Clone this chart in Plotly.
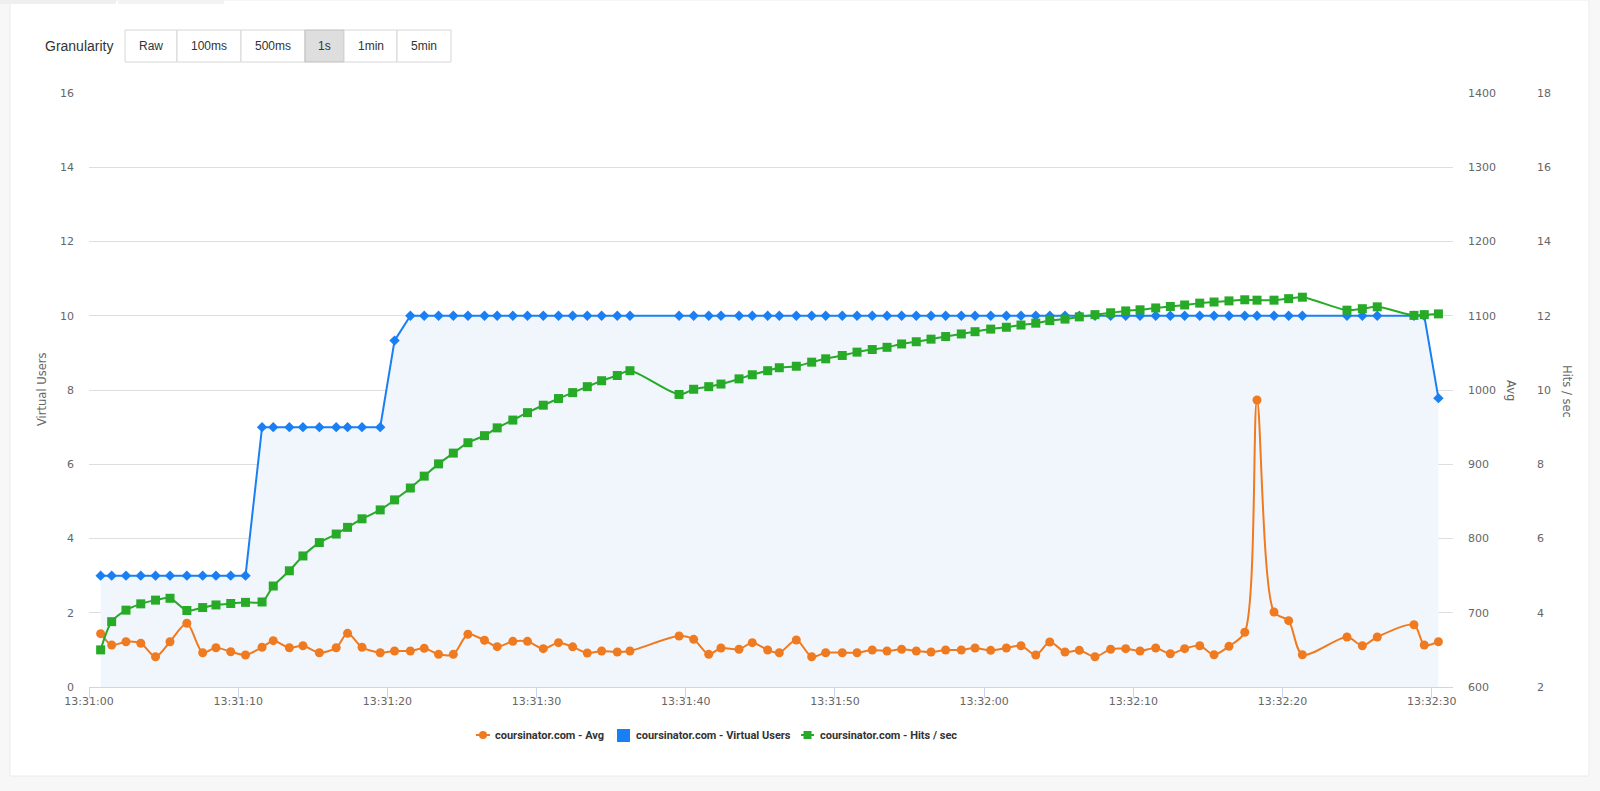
import pandas as pd
import plotly.graph_objects as go

# ---------------- data ----------------
base_time = "2024-01-01 13:31:00"
t_sec = [0.78, 1.52, 2.48, 3.47, 4.46, 5.43, 6.56, 7.62, 8.51, 9.50,
         10.49, 11.60, 12.35, 13.43, 14.34, 15.44, 16.57, 17.33, 18.30, 19.52,
         20.48, 21.54, 22.47, 23.43, 24.42, 25.40, 26.51, 27.36, 28.41, 29.39,
         30.45, 31.47, 32.42, 33.40, 34.36, 35.41, 36.26, 39.55, 40.53, 41.54,
         42.36, 43.57, 44.46, 45.49, 46.27, 47.41, 48.44, 49.38, 50.49, 51.48,
         52.50, 53.49, 54.47, 55.45, 56.44, 57.42, 58.47, 59.39, 60.44, 61.49,
         62.47, 63.46, 64.40, 65.42, 66.38, 67.43, 68.48, 69.49, 70.45, 71.50,
         72.48, 73.44, 74.45, 75.41, 76.41, 77.47, 78.29, 79.43, 80.41, 81.33,
         84.32, 85.35, 86.35, 88.81, 89.50, 90.45]

virtual_users = [3, 3, 3, 3, 3, 3, 3, 3, 3, 3,
                 3, 7, 7, 7, 7, 7, 7, 7, 7, 7,
                 9.33, 10, 10, 10, 10, 10, 10, 10, 10, 10,
                 10, 10, 10, 10, 10, 10, 10, 10, 10, 10,
                 10, 10, 10, 10, 10, 10, 10, 10, 10, 10,
                 10, 10, 10, 10, 10, 10, 10, 10, 10, 10,
                 10, 10, 10, 10, 10, 10, 10, 10, 10, 10,
                 10, 10, 10, 10, 10, 10, 10, 10, 10, 10,
                 10, 10, 10, 10, 10, 7.78]

hits_per_sec = [3.00, 3.76, 4.07, 4.24, 4.34, 4.39, 4.06, 4.14, 4.21, 4.25,
                4.28, 4.29, 4.72, 5.13, 5.53, 5.89, 6.12, 6.30, 6.53, 6.77,
                7.04, 7.36, 7.68, 8.01, 8.30, 8.58, 8.77, 8.98, 9.19, 9.39,
                9.59, 9.77, 9.93, 10.09, 10.25, 10.39, 10.52, 9.88, 10.02, 10.09,
                10.16, 10.30, 10.41, 10.52, 10.60, 10.64, 10.75, 10.84, 10.93, 11.02,
                11.09, 11.15, 11.24, 11.30, 11.37, 11.44, 11.51, 11.57, 11.64, 11.69,
                11.75, 11.80, 11.87, 11.91, 11.97, 12.03, 12.08, 12.13, 12.16, 12.21,
                12.25, 12.29, 12.34, 12.37, 12.40, 12.43, 12.42, 12.42, 12.46, 12.50,
                12.15, 12.19, 12.24, 12.01, 12.03, 12.05]

avg_ms = [671.8, 656.6, 661.0, 658.9, 640.8, 661.0, 685.8, 646.2, 652.9, 647.5,
          643.1, 653.5, 662.4, 652.9, 655.6, 646.2, 652.9, 672.3, 653.5, 646.2,
          648.5, 648.5, 652.1, 644.0, 644.0, 671.0, 662.9, 654.3, 661.5, 661.5,
          651.6, 659.7, 654.1, 645.8, 648.5, 647.1, 648.5, 668.7, 664.2, 644.0,
          652.5, 650.8, 659.7, 649.8, 646.2, 663.3, 640.8, 646.2, 646.2, 646.2,
          649.8, 648.5, 650.8, 648.5, 647.1, 649.8, 649.8, 652.5, 649.4, 652.5,
          655.6, 643.1, 660.6, 647.1, 649.4, 640.8, 650.8, 651.6, 648.5, 652.5,
          644.8, 651.6, 655.6, 643.5, 654.8, 673.7, 986.5, 701.0, 689.3, 643.5,
          667.3, 655.6, 667.3, 683.9, 656.6, 661.0]

granularity_options = ["Raw", "100ms", "500ms", "1s", "1min", "5min"]
active_granularity = "1s"
series_names = ["coursinator.com - Avg", "coursinator.com - Virtual Users",
                "coursinator.com - Hits / sec"]

# ---------------- styles ----------------
ORANGE = "#f07a1f"
BLUE = "#1a7ff2"
GREEN = "#27aa27"
FILL = "#f1f6fc"
GRID = "#dedede"
AXIS = "#ccd6eb"
TICK_FONT = dict(family="DejaVu Sans", size=11, color="#666666")
UI_FONT = "Liberation Sans, Arial, Helvetica, sans-serif"
LEG_FONT = "Roboto, Liberation Sans, Arial, sans-serif"

W, H = 1600, 791
L, R, T, B = 89, 10, 93, 104
PW, PH = W - L - R, H - T - B
X_RIGHT = 1453


def px(x):
    return (x - L) / PW


def py(y):
    return (H - B - y) / PH


t0 = pd.Timestamp(base_time)
x = [t0 + pd.Timedelta(seconds=s) for s in t_sec]

fig = go.Figure()

fig.add_trace(go.Scatter(
    x=x, y=virtual_users, name=series_names[1], mode="lines+markers",
    fill="tozeroy", fillcolor=FILL,
    line=dict(color=BLUE, width=2),
    marker=dict(symbol="diamond", size=8, color=BLUE),
    yaxis="y", showlegend=False))

fig.add_trace(go.Scatter(
    x=x, y=avg_ms, name=series_names[0], mode="lines+markers",
    line=dict(color=ORANGE, width=2, shape="spline", smoothing=0.8),
    marker=dict(symbol="circle", size=9, color=ORANGE),
    yaxis="y2", showlegend=False))

fig.add_trace(go.Scatter(
    x=x, y=hits_per_sec, name=series_names[2], mode="lines+markers",
    line=dict(color=GREEN, width=2, shape="spline", smoothing=0.8),
    marker=dict(symbol="square", size=9, color=GREEN),
    yaxis="y3", showlegend=False))

x_end = t0 + pd.Timedelta(seconds=(X_RIGHT - L) / 14.919)
dom_right = px(X_RIGHT)

fig.update_layout(
    width=W, height=H,
    margin=dict(l=L, r=R, t=T, b=B, autoexpand=False),
    paper_bgcolor="#f7f7f7", plot_bgcolor="rgba(0,0,0,0)",
    showlegend=False,
    xaxis=dict(
        type="date", domain=[0, dom_right], range=[t0, x_end],
        tick0=t0, dtick=10000, tickformat="%H:%M:%S",
        ticks="outside", ticklen=10, tickcolor=AXIS, tickwidth=1,
        showline=True, linecolor=AXIS, linewidth=1,
        showgrid=False, zeroline=False, tickfont=TICK_FONT,
        ticklabelstandoff=-6, automargin=False),
    yaxis=dict(
        range=[0, 16], dtick=2, showgrid=True, gridcolor=GRID, gridwidth=1,
        zeroline=False, showline=False, tickfont=TICK_FONT,
        ticklabelstandoff=14, automargin=False),
    yaxis2=dict(
        range=[600, 1400], dtick=100, overlaying="y", side="right",
        anchor="x", showgrid=False, zeroline=False, showline=False,
        tickfont=TICK_FONT, ticklabelstandoff=14, automargin=False),
    yaxis3=dict(
        range=[2, 18], dtick=2, overlaying="y", side="right",
        anchor="free", position=px(1523), showgrid=False, zeroline=False,
        showline=False, tickfont=TICK_FONT, ticklabelstandoff=13,
        automargin=False),
)

shapes = []
annotations = []

# card background
shapes.append(dict(type="rect", xref="paper", yref="paper", layer="below",
                   x0=px(10), x1=px(1589), y0=py(776), y1=py(0),
                   fillcolor="#ffffff", line=dict(color="#ebebeb", width=1)))
shapes.append(dict(type="rect", xref="paper", yref="paper", layer="below",
                   x0=px(0), x1=px(116), y0=py(4), y1=py(0),
                   fillcolor="#efefef", line=dict(width=0)))
shapes.append(dict(type="rect", xref="paper", yref="paper", layer="below",
                   x0=px(118), x1=px(224), y0=py(4), y1=py(0),
                   fillcolor="#f3f3f3", line=dict(width=0)))

# granularity control
annotations.append(dict(text="Granularity", xref="paper", yref="paper",
                        x=px(43), y=py(46), xanchor="left", yanchor="middle",
                        showarrow=False, font=dict(family=UI_FONT, size=14, color="#333333")))
btn_edges = [125, 177, 241, 305, 344, 397, 451]
for i, lab in enumerate(granularity_options):
    a, b = btn_edges[i], btn_edges[i + 1]
    active = lab == active_granularity
    shapes.append(dict(type="rect", xref="paper", yref="paper", layer="below",
                       x0=px(a), x1=px(b), y0=py(62), y1=py(30),
                       fillcolor="#dedede" if active else "#ffffff",
                       line=dict(color="#bdbdbd" if active else "#d6d6d6", width=1)))
    annotations.append(dict(text=lab, xref="paper", yref="paper",
                            x=px((a + b) / 2), y=py(46), xanchor="center", yanchor="middle",
                            showarrow=False, font=dict(family=UI_FONT, size=12, color="#333333")))

# axis titles
annotations.append(dict(text="Virtual Users", xref="paper", yref="paper",
                        x=px(42), y=py(390), textangle=-90, showarrow=False,
                        xanchor="center", yanchor="middle",
                        font=dict(family="DejaVu Sans", size=11.5, color="#666666")))
annotations.append(dict(text="Avg", xref="paper", yref="paper",
                        x=px(1511), y=py(390), textangle=90, showarrow=False,
                        xanchor="center", yanchor="middle",
                        font=dict(family="DejaVu Sans", size=11.5, color="#666666")))
annotations.append(dict(text="Hits / sec", xref="paper", yref="paper",
                        x=px(1567), y=py(391), textangle=90, showarrow=False,
                        xanchor="center", yanchor="middle",
                        font=dict(family="DejaVu Sans", size=11.5, color="#666666")))

# legend (drawn manually, Highcharts style)
LY = 735
leg_font = dict(family=LEG_FONT, size=11, color="#333333")
# orange
shapes.append(dict(type="line", xref="paper", yref="paper", x0=px(476), x1=px(490),
                   y0=py(LY), y1=py(LY), line=dict(color=ORANGE, width=2)))
shapes.append(dict(type="circle", xref="paper", yref="paper", x0=px(479), x1=px(487),
                   y0=py(LY + 4), y1=py(LY - 4), fillcolor=ORANGE, line=dict(width=0)))
annotations.append(dict(text="<b>%s</b>" % series_names[0], xref="paper", yref="paper",
                        x=px(493), y=py(LY), xanchor="left", yanchor="middle",
                        showarrow=False, font=leg_font))
# blue
shapes.append(dict(type="rect", xref="paper", yref="paper", x0=px(617), x1=px(630),
                   y0=py(742), y1=py(729), fillcolor=BLUE, line=dict(width=0)))
annotations.append(dict(text="<b>%s</b>" % series_names[1], xref="paper", yref="paper",
                        x=px(634), y=py(LY), xanchor="left", yanchor="middle",
                        showarrow=False, font=leg_font))
# green
shapes.append(dict(type="line", xref="paper", yref="paper", x0=px(801), x1=px(814),
                   y0=py(LY), y1=py(LY), line=dict(color=GREEN, width=2)))
shapes.append(dict(type="rect", xref="paper", yref="paper", x0=px(803.5), x1=px(811.5),
                   y0=py(LY + 4), y1=py(LY - 4), fillcolor=GREEN, line=dict(width=0)))
annotations.append(dict(text="<b>%s</b>" % series_names[2], xref="paper", yref="paper",
                        x=px(818), y=py(LY), xanchor="left", yanchor="middle",
                        showarrow=False, font=leg_font))

fig.update_layout(shapes=shapes, annotations=annotations)

fig.write_html("out.html")
